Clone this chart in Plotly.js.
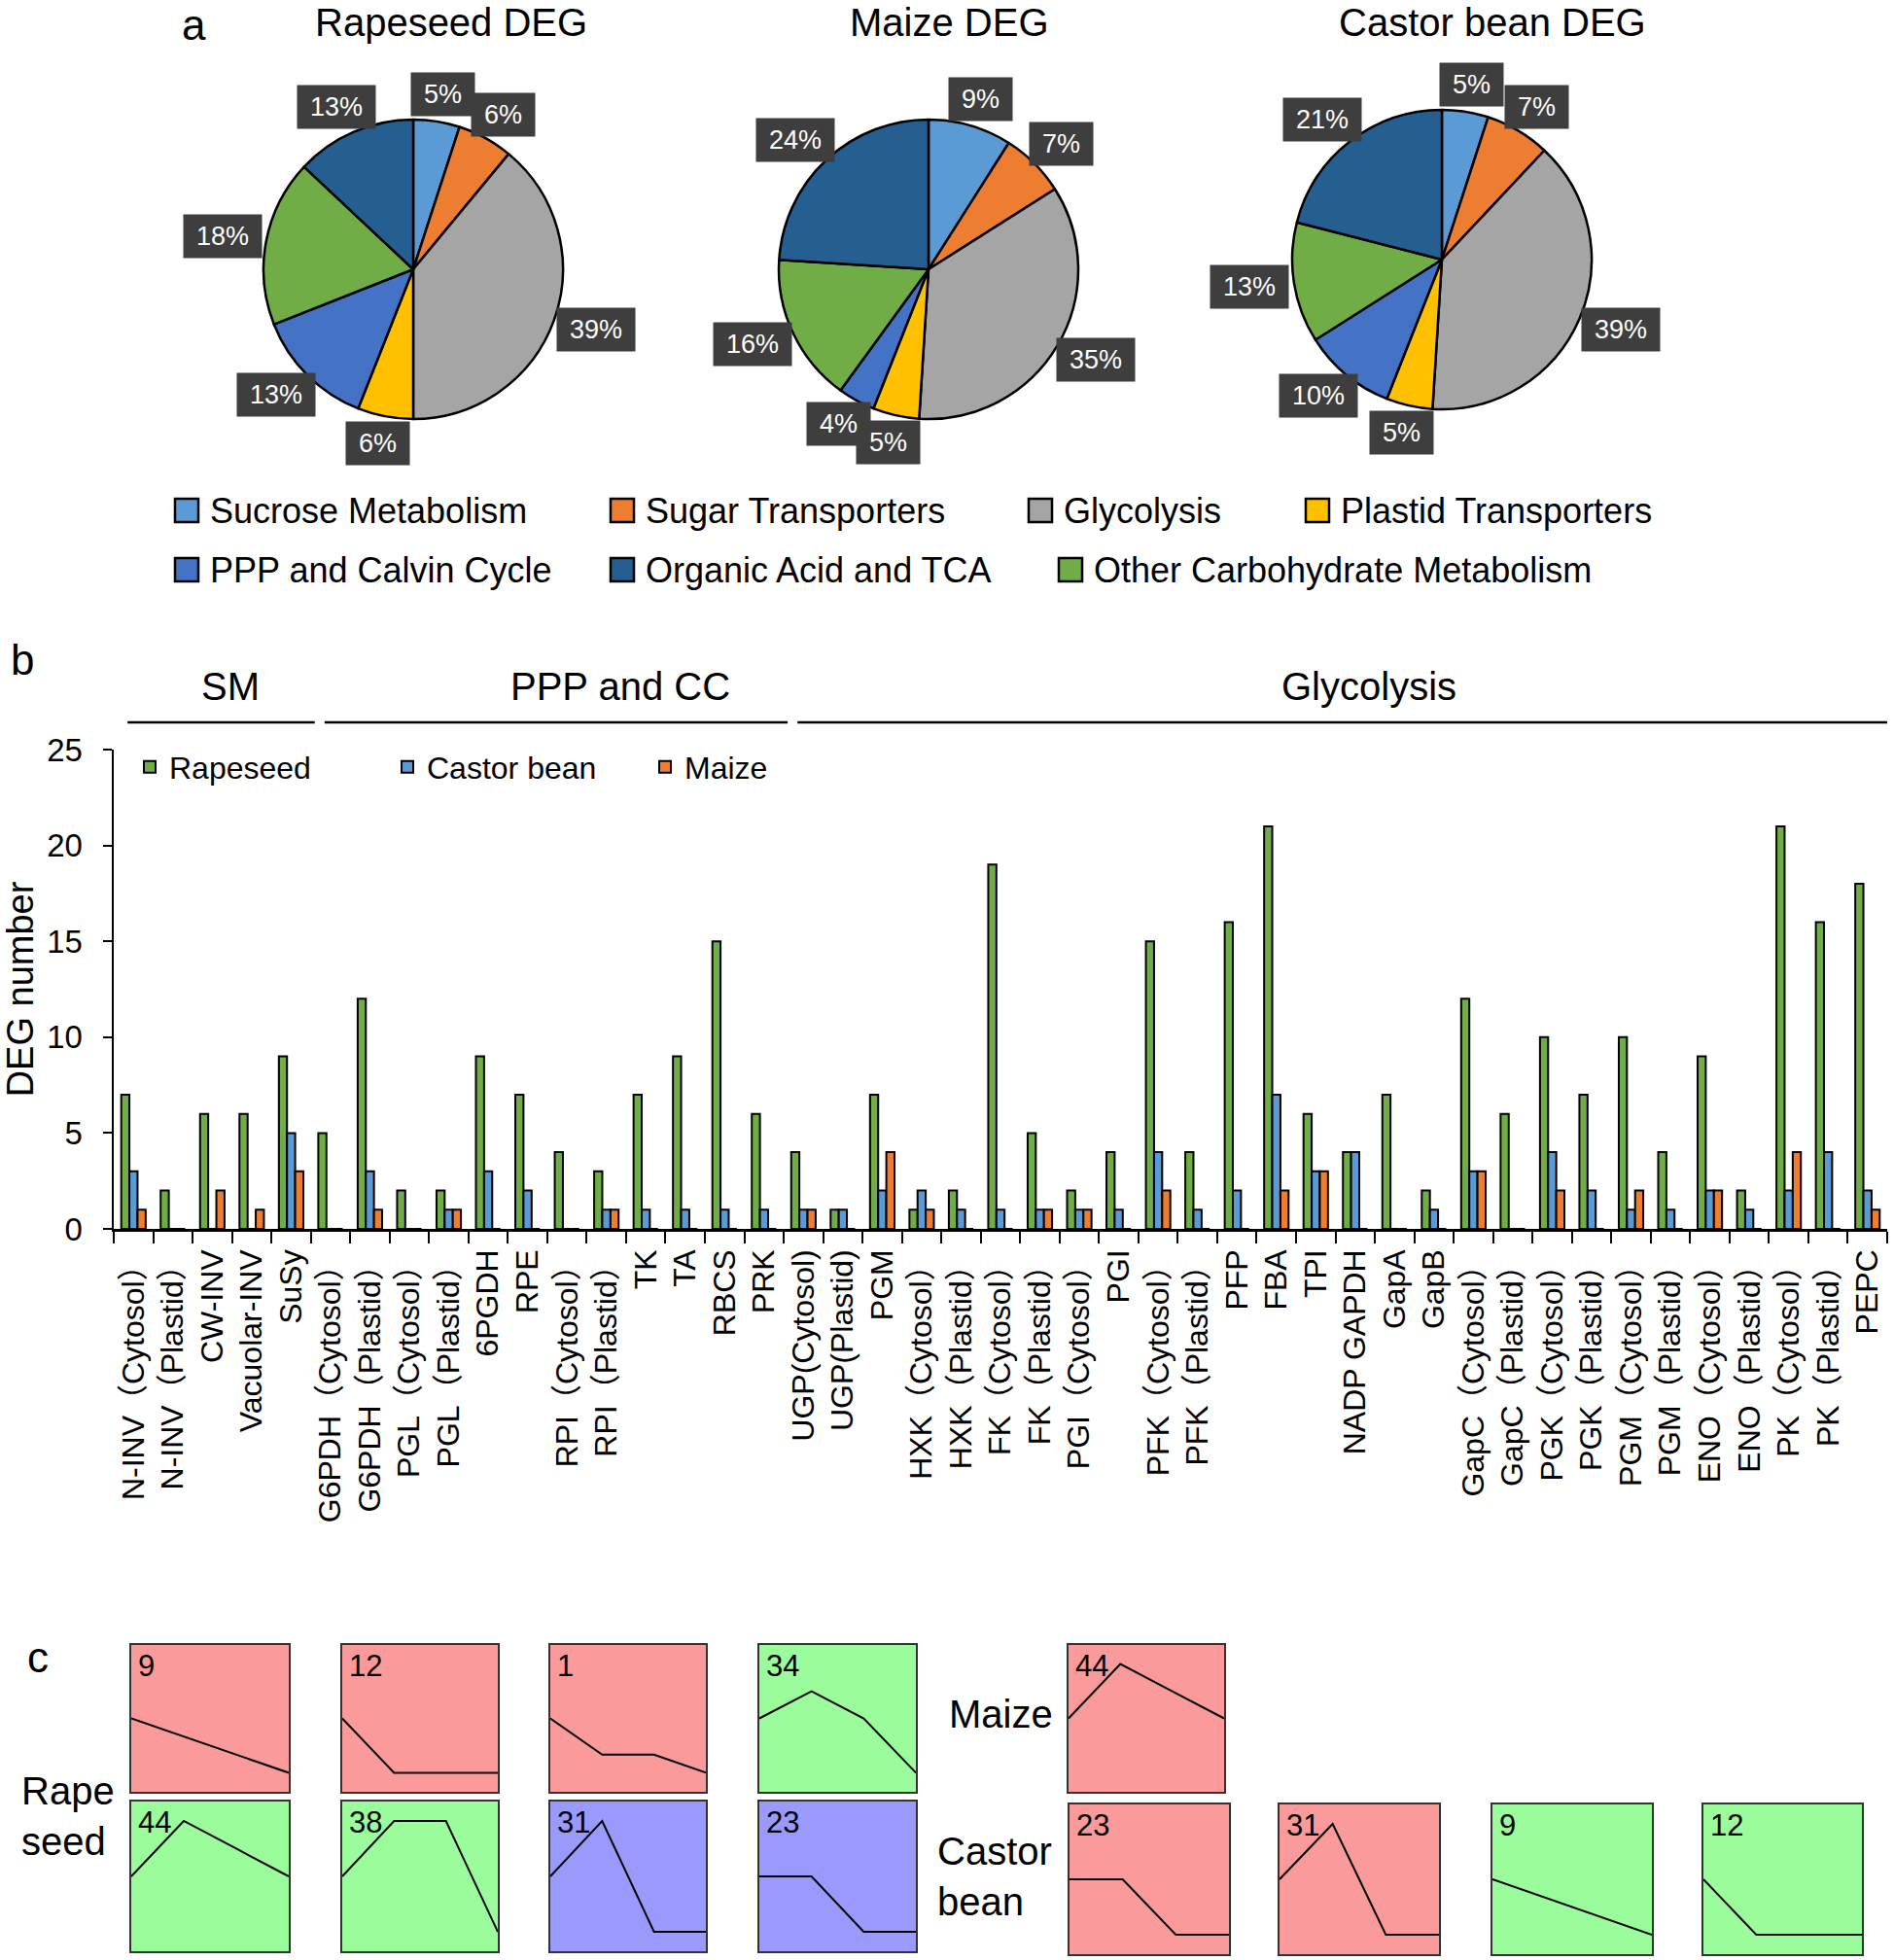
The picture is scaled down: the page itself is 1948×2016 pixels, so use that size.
<!DOCTYPE html>
<html><head><meta charset="utf-8">
<script src="https://cdn.plot.ly/plotly-3.0.1.min.js"></script>
<style>body{margin:0;background:#fff}</style>
</head><body><div id="chart" style="width:1948px;height:2016px"></div>
<script>
// ---------------- Panel a : pie data ----------------
const pathwayNames = ["Sucrose Metabolism","Sugar Transporters","Glycolysis","Plastid Transporters","PPP and Calvin Cycle","Other Carbohydrate Metabolism","Organic Acid and TCA"];
const pathwayColors = ["#5B9BD5","#ED7D31","#A5A5A5","#FFC000","#4472C4","#70AD47","#255E91"];
const pieTitles = ["Rapeseed DEG","Maize DEG","Castor bean DEG"];
const rapeseedPct = [5,6,39,6,13,18,13];
const maizePct = [9,7,35,5,4,16,24];
const castorPct = [5,7,39,5,10,13,21];
const pieLegendRows = [["Sucrose Metabolism","Sugar Transporters","Glycolysis","Plastid Transporters"],
                       ["PPP and Calvin Cycle","Organic Acid and TCA","Other Carbohydrate Metabolism"]];

// ---------------- Panel b : DEG numbers per gene ----------------
const genes = ["N-INV（Cytosol）","N-INV（Plastid）","CW-INV","Vacuolar-INV","SuSy",
  "G6PDH（Cytosol）","G6PDH（Plastid）","PGL（Cytosol）","PGL（Plastid）","6PGDH","RPE",
  "RPI（Cytosol）","RPI（Plastid）","TK","TA","RBCS","PRK",
  "UGP(Cytosol)","UGP(Plastid)","PGM","HXK（Cytosol）","HXK（Plastid）","FK（Cytosol）","FK（Plastid）",
  "PGI（Cytosol）","PGI","PFK（Cytosol）","PFK（Plastid）","PFP","FBA","TPI","NADP GAPDH","GapA","GapB",
  "GapC（Cytosol）","GapC（Plastid）","PGK（Cytosol）","PGK（Plastid）","PGM（Cytosol）","PGM（Plastid）",
  "ENO（Cytosol）","ENO（Plastid）","PK（Cytosol）","PK（Plastid）","PEPC"];
const rapeseedDEG = [7,2,6,6,9,5,12,2,2,9,7,4,3,7,9,15,6,4,1,7,1,2,19,5,2,4,15,4,16,21,6,4,7,2,12,6,10,7,10,4,9,2,21,16,18];
const castorDEG   = [3,0,0,0,5,0,3,0,1,3,2,0,1,1,1,1,1,1,1,2,2,1,1,1,1,1,4,1,2,7,3,4,0,1,3,0,4,2,1,1,2,1,2,4,2];
const maizeDEG    = [1,0,2,1,3,0,1,0,1,0,0,0,1,0,0,0,0,1,0,4,1,0,0,1,1,0,2,0,0,2,3,0,0,0,3,0,2,0,2,0,2,0,4,0,1];
const geneGroups = ["SM","PPP and CC","Glycolysis"];
const groupFirstGene = ["N-INV（Cytosol）","G6PDH（Cytosol）","UGP(Cytosol)"];
const groupLastGene  = ["SuSy","PRK","PEPC"];
const barSeriesNames = ["Rapeseed","Castor bean","Maize"];
const barSeriesColors = ["#70AD47","#5B9BD5","#ED7D31"];

// ---------------- Panel c : expression profiles ----------------
const timePoints = [0,1,2,3];
const rapeProfileIds = ["9","12","1","34","44","38","31","23"];
const rapeProfileColor = ["red","red","red","green","green","green","blue","blue"];
const rapeProfileValues = [[0,-1,-2,-3],[0,-3,-3,-3],[0,-2,-2,-3],[0,1.5,0,-3],
                           [0,3,1.5,0],[0,3,3,-3],[0,3,-3,-3],[0,0,-3,-3]];
const maizeProfileIds = ["44"];
const maizeProfileColor = ["red"];
const maizeProfileValues = [[0,3,1.5,0]];
const castorProfileIds = ["23","31","9","12"];
const castorProfileColor = ["red","red","green","green"];
const castorProfileValues = [[0,0,-3,-3],[0,3,-3,-3],[0,-1,-2,-3],[0,-3,-3,-3]];
const profileFill = {red:"#FA9A9A", green:"#9AFC9A", blue:"#9A9AFC"};

// ---------------- geometry (pixels) ----------------
const W = 1948, H = 2016;
const px = v => v / W;
const py = v => 1 - v / H;
const FONT = "Liberation Sans, Arial, Noto Sans CJK SC, sans-serif";

const pieCenters = [[425,277],[955,277],[1483,267]];
const pieR = 154;
const pieTitleX = [464,976,1535];
const pieLegendX = [[192,640,1070,1355],[192,640,1101]];
const pieLegendY = [525,586];
const groupLabelPos = [2.46,12.36,31.35];   // label centres, in category units

const rapeBoxX = [[135,297],[352,512],[566,726],[781,942]];
const rapeRowY = [[1692,1843],[1853,2007]];
const maizeBoxX = [[1099,1259]];
const maizeRowY = [1692,1843];
const castorBoxX = [[1100,1264],[1316,1480],[1535,1699],[1752,1915]];
const castorRowY = [1856,2010];

const traces = [];
const annotations = [];
const shapes = [];

// ---- pies ----
[rapeseedPct, maizePct, castorPct].forEach((vals, i) => {
  const [cx, cy] = pieCenters[i];
  traces.push({
    type:'pie', values: vals, labels: pathwayNames, sort:false, direction:'clockwise', rotation:0,
    marker:{colors: pathwayColors, line:{color:'#000', width:2.5}},
    textinfo:'none', hoverinfo:'label+percent', showlegend:false,
    domain:{x:[px(cx-pieR), px(cx+pieR)], y:[py(cy+pieR), py(cy-pieR)]}
  });
  annotations.push({xref:'paper', yref:'paper', x:px(pieTitleX[i]), y:1, text:pieTitles[i], showarrow:false,
    font:{size:40}, xanchor:'center', yanchor:'top', borderpad:0});
  const total = vals.reduce((a,b)=>a+b,0);
  let cum = 0;
  vals.forEach(v => {
    const mid = (cum + v/2) / total * 2 * Math.PI; cum += v;
    const lbl = v + '%';
    const bw = 29 + 15*lbl.length, bh = 38;
    const ux = Math.sin(mid), uy = -Math.cos(mid);
    const gap = pieR + 6;
    const lx = cx + ux*(gap + (bw+6)/2);
    const ly = cy + uy*(gap + (bh+6)/2);
    annotations.push({xref:'paper', yref:'paper', x:px(lx), y:py(ly),
      text:lbl, showarrow:false, font:{size:27, color:'#fff'}, bgcolor:'#3e3e3e',
      width: bw, height: bh, borderpad:3, xanchor:'center', yanchor:'middle'});
  });
});
// pie legend
pieLegendRows.forEach((row, r) => {
  row.forEach((name, k) => {
    const cx = pieLegendX[r][k], cy = pieLegendY[r];
    const col = pathwayColors[pathwayNames.indexOf(name)];
    shapes.push({type:'rect', xref:'paper', yref:'paper', x0:px(cx-12), x1:px(cx+12), y0:py(cy+12), y1:py(cy-12),
      fillcolor: col, line:{color:'#000', width:2.5}});
    annotations.push({xref:'paper', yref:'paper', x:px(cx+22), y:py(cy), text:name, showarrow:false,
      font:{size:36}, xanchor:'left', yanchor:'middle'});
  });
});

// panel letters
annotations.push({xref:'paper', yref:'paper', x:px(199), y:1, text:'a', showarrow:false, font:{size:44}, xanchor:'center', yanchor:'top', borderpad:0});
annotations.push({xref:'paper', yref:'paper', x:px(23), y:py(678), text:'b', showarrow:false, font:{size:44}, xanchor:'center', yanchor:'middle'});
annotations.push({xref:'paper', yref:'paper', x:px(39), y:py(1704), text:'c', showarrow:false, font:{size:44}, xanchor:'center', yanchor:'middle'});

// ---- bars ----
[rapeseedDEG, castorDEG, maizeDEG].forEach((vals, i) => {
  traces.push({type:'bar', name: barSeriesNames[i], x: genes, y: vals, xaxis:'x', yaxis:'y',
    marker:{color: barSeriesColors[i], line:{color:'#000', width:2}}, showlegend:true});
});
// group brackets above bars
geneGroups.forEach((g, i) => {
  const a = genes.indexOf(groupFirstGene[i]) - 0.5 + 0.35;
  const b = genes.indexOf(groupLastGene[i]) + 0.5 + 0.1;
  shapes.push({type:'line', xref:'x', yref:'paper', x0:a, x1:b, y0:py(743), y1:py(743), line:{color:'#000', width:2.5}});
  annotations.push({xref:'x', yref:'paper', x:groupLabelPos[i], y:py(706), text:g, showarrow:false, font:{size:40}, xanchor:'center', yanchor:'middle'});
});

// ---- profile mini plots ----
const panels = [];
rapeProfileIds.forEach((id, k) => {
  panels.push({id, vals: rapeProfileValues[k], color: rapeProfileColor[k], x: rapeBoxX[k % 4], y: rapeRowY[Math.floor(k / 4)]});
});
maizeProfileIds.forEach((id, k) => panels.push({id, vals: maizeProfileValues[k], color: maizeProfileColor[k], x: maizeBoxX[k], y: maizeRowY}));
castorProfileIds.forEach((id, k) => panels.push({id, vals: castorProfileValues[k], color: castorProfileColor[k], x: castorBoxX[k], y: castorRowY}));

const layout = {
  width: W, height: H, margin:{l:0, r:0, t:0, b:0},
  paper_bgcolor:'#fff', plot_bgcolor:'rgba(0,0,0,0)',
  font:{family: FONT, color:'#000'},
  showlegend: true,
  legend:{orientation:'h', x:px(134), xanchor:'left', y:py(789), yanchor:'middle', font:{size:32},
          entrywidth:220, bgcolor:'rgba(0,0,0,0)', traceorder:'normal'},
  barmode:'group', bargap:0.38, bargroupgap:0,
  xaxis:{domain:[px(117), px(1941)], anchor:'y', type:'category', range:[-0.5, genes.length-0.5],
         showline:true, linecolor:'#000', linewidth:2.5, ticks:'outside', tickson:'boundaries', ticklen:12,
         tickwidth:2, tickcolor:'#000', tickangle:-90, tickfont:{size:32}, showgrid:false, zeroline:false,
         ticklabelstandoff:6, fixedrange:true},
  yaxis:{domain:[py(1264), py(771)], anchor:'x', range:[0,25], dtick:5, tick0:0,
         showline:true, linecolor:'#000', linewidth:2.5, ticks:'outside', ticklen:9, tickwidth:2, tickcolor:'#000',
         tickfont:{size:33}, showgrid:false, zeroline:false, fixedrange:true, ticklabelstandoff:14,
         title:{text:'DEG number', font:{size:38}, standoff:10}},
  annotations, shapes
};

panels.forEach((p, i) => {
  const n = i + 2;
  layout['xaxis'+n] = {domain:[px(p.x[0]), px(p.x[1])], anchor:'y'+n, range:[0,3], showline:true, mirror:true,
    linecolor:'#333', linewidth:2, showticklabels:false, ticks:'', showgrid:false, zeroline:false, fixedrange:true};
  layout['yaxis'+n] = {domain:[py(p.y[1]), py(p.y[0])], anchor:'x'+n, range:[-4.05,4.05], showline:true, mirror:true,
    linecolor:'#333', linewidth:2, showticklabels:false, ticks:'', showgrid:false, zeroline:false, fixedrange:true};
  shapes.push({type:'rect', xref:'x'+n+' domain', yref:'y'+n+' domain', x0:0, x1:1, y0:0, y1:1,
    fillcolor: profileFill[p.color], line:{width:0}, layer:'below'});
  traces.push({type:'scatter', mode:'lines', x: timePoints, y: p.vals, xaxis:'x'+n, yaxis:'y'+n,
    line:{color:'#000', width:2}, showlegend:false, hoverinfo:'y'});
  annotations.push({xref:'x'+n+' domain', yref:'y'+n+' domain', x:0.03, y:0.985, text:p.id, showarrow:false,
    font:{size:31}, xanchor:'left', yanchor:'top'});
});

// row labels for panel c
annotations.push({xref:'paper', yref:'paper', x:px(20), y:py(1868), text:'Rape<br>seed', showarrow:false, font:{size:40}, xanchor:'left', yanchor:'middle', align:'left'});
annotations.push({xref:'paper', yref:'paper', x:px(974), y:py(1763), text:'Maize', showarrow:false, font:{size:40}, xanchor:'left', yanchor:'middle'});
annotations.push({xref:'paper', yref:'paper', x:px(962), y:py(1930), text:'Castor<br>bean', showarrow:false, font:{size:40}, xanchor:'left', yanchor:'middle', align:'left'});

Plotly.newPlot('chart', traces, layout, {displayModeBar:false, staticPlot:true});
</script></body></html>
